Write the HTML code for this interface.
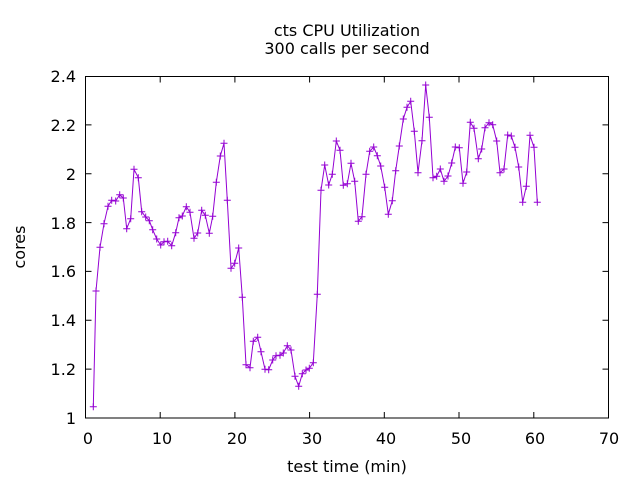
<!DOCTYPE html>
<html><head><meta charset="utf-8"><style>
html,body{margin:0;padding:0;background:#fff;}
svg{display:block;}
text{font-family:"DejaVu Sans","Liberation Sans",sans-serif;font-size:16px;fill:#000;}
</style></head><body>
<svg width="640" height="480" viewBox="0 0 640 480" xmlns="http://www.w3.org/2000/svg">
<defs>
<marker id="plus" markerWidth="9" markerHeight="9" refX="4.5" refY="4.5" markerUnits="userSpaceOnUse" viewBox="0 0 9 9" overflow="visible">
<path d="M1 4.5h7M4.5 1v7" stroke="#9400d3" stroke-width="1" fill="none"/>
</marker>
</defs>
<rect width="640" height="480" fill="#fff"/>
<text x="347" y="36" text-anchor="middle">cts CPU Utilization</text>
<text x="347" y="54" text-anchor="middle">300 calls per second</text>
<g stroke="#000" stroke-width="1" fill="none">
<rect x="85.5" y="76.5" width="523" height="341.5"/>
<path d="M85.5 369.1h6M608.5 369.1h-6M85.5 320.3h6M608.5 320.3h-6M85.5 271.4h6M608.5 271.4h-6M85.5 222.6h6M608.5 222.6h-6M85.5 173.7h6M608.5 173.7h-6M85.5 124.9h6M608.5 124.9h-6
M160.2 418v-6M160.2 76.5v6M234.9 418v-6M234.9 76.5v6M309.6 418v-6M309.6 76.5v6M384.3 418v-6M384.3 76.5v6M459 418v-6M459 76.5v6M533.8 418v-6M533.8 76.5v6"/>
</g>
<g text-anchor="end">
<text x="76" y="424">1</text><text x="76" y="375">1.2</text><text x="76" y="326">1.4</text><text x="76" y="277">1.6</text><text x="76" y="229">1.8</text><text x="76" y="180">2</text><text x="76" y="131">2.2</text><text x="76" y="82">2.4</text>
</g>
<g text-anchor="middle">
<text x="88" y="444">0</text><text x="162" y="444">10</text><text x="237" y="444">20</text><text x="312" y="444">30</text><text x="386" y="444">40</text><text x="461" y="444">50</text><text x="535" y="444">60</text><text x="609" y="444">70</text>
<text x="347" y="472">test time (min)</text>
<text x="0" y="0" transform="translate(25,247) rotate(-90)">cores</text>
</g>
<polyline fill="none" stroke="#9400d3" stroke-width="1" marker-start="url(#plus)" marker-mid="url(#plus)" marker-end="url(#plus)" points="93.3,406.7 96,291 100,247.3 104,223.7 108,206.3 111.7,200.3 115.7,201 119.7,194.7 123.3,198 126.7,228.7 130.7,218.7 134,169.3 138.3,177.7 141.7,211.7 145.7,217 149.3,220.7 152.7,229.7 156.7,239 160.7,245 164,241.7 167.7,241.3 171.7,245.7 175.7,232.7 179,217.7 182.3,216 186.3,206.7 190,212.3 194,238.3 197.7,233 201.7,210.3 205.3,215.3 209.3,233.3 212.7,216.3 216.3,182.3 220.3,156 224,143.3 227.3,200.3 231,268.3 234.7,263.3 238.7,248 242.3,297.3 246,364.7 250,367.7 253.3,341.3 257.7,337.3 261,351.7 265,369.3 268.7,369.7 272.7,360 276,355.7 280,355.3 283.3,353 287.3,345.7 291,350 295,376.3 298.7,386.3 302.3,373.7 306,370 309.3,368.3 313.3,362.7 317.3,294.3 321,190.3 324.7,165 328.7,185 332.3,174.3 336.3,141 340,150.3 343.3,185.3 347.3,183.7 351,163.3 354.7,181.3 358.3,221.3 362,216.7 366,174.3 369.7,151.3 373.7,147 377.3,155.7 380.7,166 384.7,187.3 388.3,214.3 392.3,200.7 395.7,170.7 399.3,146 403.3,119 407,107.3 410.7,101.3 414.3,131.3 418,172.7 422,140.7 425.7,85 429.3,117.3 433,177.7 436.7,176.3 440.3,169 444,181.3 448,176 451.7,163 455.3,147 459.3,147.7 463,183.3 466.7,172 470.3,122.3 474,128.3 478.3,158.7 481.7,149 485,127.7 489,122.7 492.7,124.7 496.7,141 500,172.7 504,169 507.7,135 511.3,136 515,147.3 518.7,167 522.7,202.3 526.3,186.3 530,135.3 534,147.3 537.3,202.3"/>
</svg>
</body></html>
